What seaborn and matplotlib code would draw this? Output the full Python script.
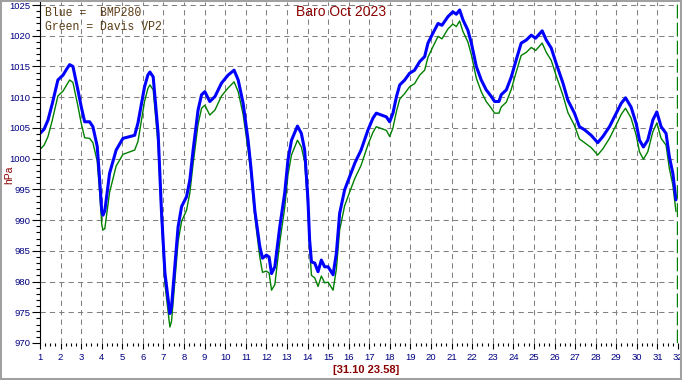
import matplotlib
matplotlib.use("Agg")
import matplotlib.pyplot as plt
from matplotlib.patches import Rectangle
from matplotlib.ticker import MultipleLocator
import seaborn as sns
import pandas as pd

days = [1.0, 1.2, 1.39, 1.6, 1.87, 2.12, 2.3, 2.44, 2.6, 2.84, 3.0, 3.17, 3.41, 3.57, 3.78, 3.9,
        4.0, 4.06, 4.15, 4.38, 4.7, 5.03, 5.6, 5.76, 6.08, 6.24, 6.34, 6.5, 6.74, 6.9, 7.07, 7.23,
        7.31, 7.39, 7.55, 7.71, 7.88, 8.12, 8.28, 8.44, 8.68, 8.85, 9.01, 9.25, 9.5, 9.82, 10.14,
        10.43, 10.63, 10.87, 11.11, 11.25, 11.44, 11.68, 11.81, 12.0, 12.13, 12.25, 12.41, 12.65,
        12.89, 13.05, 13.22, 13.51, 13.7, 13.86, 14.02, 14.1, 14.19, 14.35, 14.51, 14.67, 14.83,
        15.0, 15.24, 15.4, 15.56, 15.8, 16.05, 16.3, 16.6, 16.94, 17.18, 17.34, 17.58, 17.83,
        17.99, 18.15, 18.32, 18.48, 18.72, 18.96, 19.2, 19.45, 19.69, 19.85, 20.09, 20.34, 20.53,
        20.82, 21.06, 21.23, 21.39, 21.55, 21.79, 21.96, 22.2, 22.44, 22.68, 22.93, 23.09, 23.3,
        23.41, 23.66, 23.9, 24.14, 24.38, 24.63, 24.87, 25.08, 25.4, 25.6, 25.84, 26.08, 26.41,
        26.65, 26.97, 27.21, 27.46, 27.78, 28.1, 28.35, 28.67, 29.0, 29.24, 29.45, 29.72, 29.97,
        30.13, 30.32, 30.53, 30.78, 30.97, 31.18, 31.42, 31.58, 31.75, 31.9]

blue_bmp280 = [1004.1, 1004.8, 1006.3, 1009.0, 1012.8, 1013.6, 1014.6, 1015.3, 1015.0, 1011.2,
               1008.5, 1006.0, 1006.0, 1005.2, 1002.0, 996.5, 991.5, 990.8, 991.5, 997.6, 1001.4,
               1003.3, 1003.8, 1005.8, 1011.7, 1013.6, 1014.1, 1013.3, 1004.1, 991.6, 981.4, 977.0,
               974.8, 975.9, 982.4, 988.9, 992.2, 993.8, 996.5, 1001.4, 1007.9, 1010.4, 1010.9,
               1009.3, 1010.1, 1012.3, 1013.6, 1014.4, 1012.8, 1009.0, 1003.0, 998.5, 991.5, 985.7,
               983.8, 984.3, 984.0, 981.3, 982.4, 988.9, 994.4, 999.8, 1003.0, 1005.3, 1004.1,
               1001.4, 993.3, 986.8, 983.2, 983.0, 981.6, 983.5, 982.4, 982.4, 981.1, 984.6, 991.1,
               994.9, 997.1, 999.3, 1001.4, 1004.7, 1006.6, 1007.4, 1007.1, 1006.8, 1006.0, 1007.4,
               1010.1, 1012.0, 1012.8, 1013.9, 1014.4, 1015.8, 1016.6, 1018.8, 1020.4, 1022.0,
               1021.7, 1023.1, 1023.9, 1023.5, 1024.2, 1022.6, 1020.9, 1018.8, 1015.0, 1012.8,
               1011.2, 1010.1, 1009.3, 1009.3, 1010.4, 1011.2, 1013.3, 1016.1, 1018.8, 1019.3,
               1020.1, 1019.6, 1020.8, 1019.3, 1018.0, 1015.5, 1012.3, 1009.5, 1007.4, 1005.2,
               1004.7, 1003.8, 1002.6, 1003.6, 1005.2, 1007.4, 1009.0, 1009.9, 1008.4, 1005.7,
               1003.0, 1001.9, 1003.0, 1006.3, 1007.6, 1005.2, 1004.1, 1000.3, 997.6, 993.3]

green_davis = [1001.5, 1002.2, 1003.6, 1006.3, 1010.2, 1011.0, 1012.0, 1012.8, 1012.4, 1008.6,
               1005.8, 1003.4, 1003.3, 1002.6, 999.6, 994.5, 989.3, 988.4, 988.6, 994.5, 998.8,
               1000.7, 1001.4, 1002.8, 1009.3, 1011.4, 1012.0, 1011.2, 1002.3, 990.0, 979.6, 975.0,
               972.6, 973.5, 980.0, 986.5, 989.8, 991.6, 994.4, 999.2, 1005.6, 1008.2, 1008.7,
               1007.1, 1007.9, 1010.2, 1011.5, 1012.5, 1010.9, 1007.2, 1001.5, 997.5, 990.5, 984.0,
               981.5, 981.7, 981.4, 978.6, 979.5, 986.4, 992.0, 997.4, 1000.6, 1003.0, 1001.9,
               999.5, 992.0, 985.5, 981.0, 980.6, 979.2, 980.9, 979.8, 979.9, 978.6, 982.0, 988.4,
               992.3, 994.6, 996.8, 998.9, 1002.3, 1004.3, 1005.2, 1004.9, 1004.6, 1003.6, 1005.0,
               1007.7, 1009.7, 1010.6, 1011.7, 1012.2, 1013.6, 1014.4, 1016.5, 1018.2, 1019.9,
               1019.5, 1021.1, 1021.9, 1021.5, 1022.4, 1020.7, 1019.0, 1016.9, 1013.1, 1010.9,
               1009.3, 1008.2, 1007.4, 1007.4, 1008.4, 1009.2, 1011.3, 1014.1, 1016.8, 1017.3,
               1018.1, 1017.6, 1018.8, 1017.3, 1016.0, 1013.5, 1010.3, 1007.5, 1005.4, 1003.2,
               1002.6, 1001.8, 1000.6, 1001.6, 1003.3, 1005.5, 1007.2, 1008.2, 1006.6, 1003.8,
               1001.1, 999.9, 1001.1, 1004.4, 1005.8, 1003.3, 1002.2, 998.4, 995.7, 991.4]

x_ticks = list(range(1, 33))
y_ticks = list(range(970, 1026, 5))
title = "Baro Oct 2023"
legend_lines = ["Blue =  BMP280", "Green = Davis VP2"]
stamp = "[31.10 23.58]"
now_marker = 31.97

sns.set_style("white")
plt.rcParams['font.family'] = ['Liberation Sans', 'DejaVu Sans']

df = pd.DataFrame({"day": days, "blue": blue_bmp280, "green": green_davis})

W, H = 682, 380
fig = plt.figure(figsize=(W / 100, H / 100), dpi=100)
ax = fig.add_axes([40 / W, 1 - 343 / H, (678 - 40) / W, (343 - 2) / H])

navy = "#000080"
dred = "#8B0000"

ax.set_xlim(1, 32)
ax.set_ylim(970, 970 + 341 / 6.145)
ax.set_xticks(x_ticks)
ax.set_yticks(y_ticks)
ax.xaxis.set_minor_locator(MultipleLocator(0.25))
ax.yaxis.set_minor_locator(MultipleLocator(1))

ax.grid(True, which="major", color="#808080", linestyle=(0, (5, 4)), linewidth=0.75)
ax.set_axisbelow(True)

sns.lineplot(data=df, x="day", y="green", ax=ax, color="#008000", linewidth=1.0,
             estimator=None, sort=False)
sns.lineplot(data=df, x="day", y="blue", ax=ax, color="#0000FF", linewidth=2.2,
             estimator=None, sort=False)

ax.axvline(now_marker, color="#008000", linestyle=(0, (10, 3)), linewidth=1.0)

for s in ["top", "right", "bottom"]:
    ax.spines[s].set_visible(False)
ax.spines["left"].set_color("black")
ax.spines["left"].set_linewidth(0.8)

ax.tick_params(axis="y", which="major", direction="out", length=6, width=0.8,
               color="black", labelcolor=navy, labelsize=6.8, pad=1)
ax.tick_params(axis="y", which="minor", direction="out", length=3, width=0.8, color="black")
ax.tick_params(axis="x", which="major", direction="out", length=4, width=0.8,
               color="black", labelcolor=navy, labelsize=6.8, pad=3)
ax.tick_params(axis="x", which="minor", direction="out", length=2.5, width=0.8, color="black")
ax.xaxis.set_ticks_position("bottom")
ax.yaxis.set_ticks_position("left")

ax.set_xlabel("")
ax.set_ylabel("")

fig.text(341 / W, 1 - 12.5 / H, title, color=dred, fontsize=10, ha="center", va="center")
for i, line in enumerate(legend_lines):
    fig.text(45 / W, 1 - (13 + 13.5 * i) / H, line, color="#5a3c14", fontsize=8.3,
             family=["Liberation Mono", "DejaVu Sans Mono"], ha="left", va="center")
fig.text(9 / W, 1 - 175 / H, "hPa", color=dred, fontsize=7.5, rotation=90,
         ha="center", va="center")
fig.text(366 / W, 1 - 370 / H, stamp, color=dred, fontsize=8, fontweight="bold",
         ha="center", va="center")

fig.add_artist(Rectangle((0, 0), 1, 1, transform=fig.transFigure, fill=False,
                         edgecolor="#a0a0a0", linewidth=2.9))

fig.savefig("out.png", dpi=100)
